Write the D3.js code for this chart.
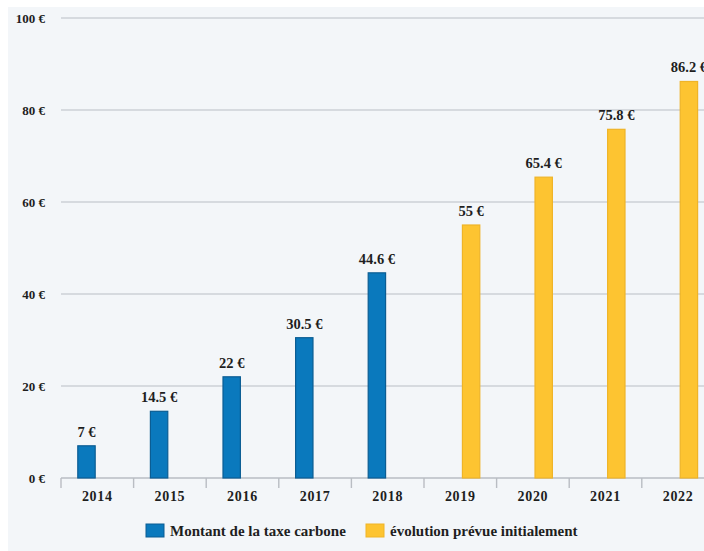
<!DOCTYPE html>
<html>
<head>
<meta charset="utf-8">
<script src="https://cdn.jsdelivr.net/npm/d3@7"></script>
<style>
  html, body { margin: 0; padding: 0; background: #ffffff; }
  svg { display: block; }
</style>
</head>
<body>
<svg id="chart" width="704" height="551"></svg>
<script>
const years = ["2014", "2015", "2016", "2017", "2018", "2019", "2020", "2021", "2022"];
const taxValues = [7, 14.5, 22, 30.5, 44.6, null, null, null, null];
const plannedValues = [null, null, null, null, null, 55, 65.4, 75.8, 86.2];
const valueLabels = ["7 €", "14.5 €", "22 €", "30.5 €", "44.6 €", "55 €", "65.4 €", "75.8 €", "86.2 €"];
const yTicks = [0, 20, 40, 60, 80, 100];
const seriesNames = ["Montant de la taxe carbone", "évolution prévue initialement"];
const seriesKeys = ["tax", "planned"];
const colors = { tax: "#0a79bd", planned: "#fdc431" };
const strokes = { tax: "#0b5d93", planned: "#efb428" };

const FONT = "'Liberation Serif', 'DejaVu Serif', serif";
const TEXT_COLOR = "#1e1e1e";
const W = 704, H = 551;
const svg = d3.select("#chart");

// panel background
svg.append("rect").attr("x", 8).attr("y", 7).attr("width", W - 8).attr("height", H - 7).attr("fill", "#f3f6f9");

const x0 = d3.scaleBand().domain(years).range([61, 714.4]).paddingInner(0).paddingOuter(0);
const bw = x0.bandwidth();
const x1 = d3.scaleBand().domain(seriesKeys).range([bw / 2 - 20, bw / 2 + 20]).paddingInner(0.15).paddingOuter(0);
const y = d3.scaleLinear().domain([0, 100]).range([478, 18]);

// grid lines
svg.append("g").selectAll("line").data(yTicks.filter(d => d > 0)).join("line")
  .attr("x1", 61).attr("x2", W).attr("y1", d => y(d)).attr("y2", d => y(d))
  .attr("stroke", "#cdd1d6").attr("stroke-width", 1.4);

// y axis labels
const yAxis = d3.axisLeft(y).tickValues(yTicks).tickSize(0).tickPadding(0).tickFormat(d => d + " €");
const gy = svg.append("g").attr("transform", "translate(45,0)").call(yAxis);
gy.select(".domain").remove();
gy.selectAll("text").style("font-family", FONT).style("font-size", "13px").style("font-weight", "bold")
  .attr("fill", TEXT_COLOR).attr("dy", "0.32em");

// x axis baseline and ticks at band edges
svg.append("line").attr("x1", 61).attr("x2", W).attr("y1", y(0)).attr("y2", y(0)).attr("stroke", "#b9bdc3").attr("stroke-width", 1.4);
svg.append("g").selectAll("line").data(years).join("line")
  .attr("x1", d => x0(d)).attr("x2", d => x0(d)).attr("y1", y(0)).attr("y2", y(0) + 10)
  .attr("stroke", "#b9bdc3").attr("stroke-width", 1.4);

const xAxis = d3.axisBottom(x0).tickSize(0).tickPadding(0);
const gx = svg.append("g").attr("transform", `translate(0,${y(0) + 19})`).call(xAxis);
gx.select(".domain").remove();
gx.selectAll("text").style("font-family", FONT).style("font-size", "14px").style("font-weight", "bold")
  .style("letter-spacing", "0.7px").attr("fill", TEXT_COLOR).attr("dy", "0.32em");

// bars
const rows = years.map((yr, i) => ({ year: yr, tax: taxValues[i], planned: plannedValues[i], label: valueLabels[i] }));
const barData = [];
rows.forEach(r => seriesKeys.forEach(k => { if (r[k] != null) barData.push({ year: r.year, key: k, value: r[k], label: r.label }); }));

svg.append("g").selectAll("rect").data(barData).join("rect")
  .attr("x", d => x0(d.year) + x1(d.key) + 0.5)
  .attr("y", d => y(d.value))
  .attr("width", x1.bandwidth() - 1)
  .attr("height", d => y(0) - y(d.value))
  .attr("fill", d => colors[d.key])
  .attr("stroke", d => strokes[d.key])
  .attr("stroke-width", 1.2);

svg.append("g").selectAll("text").data(barData).join("text")
  .attr("x", d => x0(d.year) + x1(d.key) + x1.bandwidth() / 2)
  .attr("y", d => y(d.value) - 9)
  .attr("text-anchor", "middle")
  .style("font-family", FONT).style("font-size", "14.5px").style("font-weight", "bold")
  .attr("fill", TEXT_COLOR)
  .text(d => d.label);

// legend
const legendX = [146, 366];
const lg = svg.append("g");
seriesKeys.forEach((k, i) => {
  lg.append("rect").attr("x", legendX[i]).attr("y", 524).attr("width", 18).attr("height", 13)
    .attr("fill", colors[k]).attr("stroke", strokes[k]).attr("stroke-width", 1);
  lg.append("text").attr("x", legendX[i] + 24).attr("y", 531).attr("dy", "0.35em")
    .style("font-family", FONT).style("font-size", "15px").style("font-weight", "bold")
    .attr("fill", TEXT_COLOR).text(seriesNames[i]);
});
</script>
</body>
</html>
